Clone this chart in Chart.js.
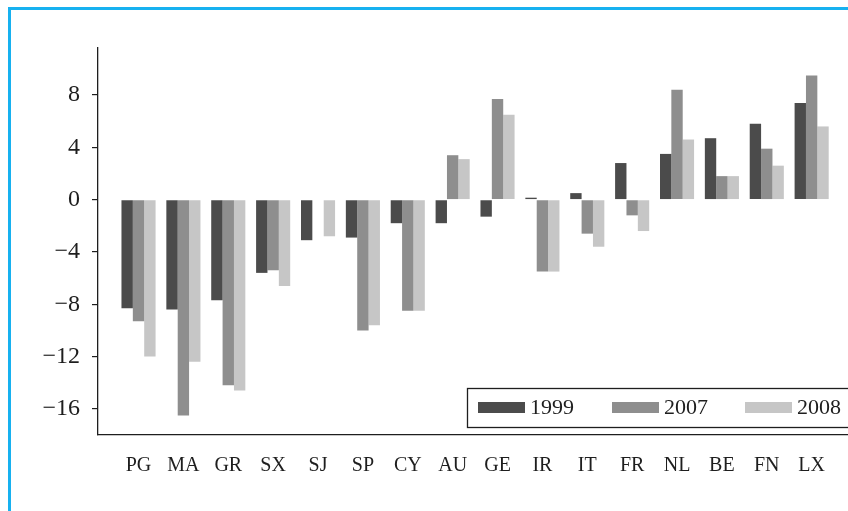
<!DOCTYPE html>
<html>
<head>
<meta charset="utf-8">
<script src="https://cdn.jsdelivr.net/npm/chart.js@4.4.1/dist/chart.umd.min.js"></script>
<style>
  html, body { margin: 0; padding: 0; background: #fff; overflow: hidden; }
  #moldura { position: absolute; left: 8px; top: 7px; width: 900px; height: 600px;
             border: 3px solid #17b1f0; box-sizing: border-box; }
  #caixa { position: absolute; left: 0; top: 0; width: 848px; height: 511px; }
</style>
</head>
<body>
<div id="moldura"></div>
<div id="caixa"><canvas id="grafico" width="848" height="511"></canvas></div>
<script>
// Dados
const categorias = ['PG', 'MA', 'GR', 'SX', 'SJ', 'SP', 'CY', 'AU', 'GE', 'IR', 'IT', 'FR', 'NL', 'BE', 'FN', 'LX'];
const anos = ['1999', '2007', '2008'];
const v1999 = [-8.3, -8.4, -7.7, -5.6, -3.1, -2.9, -1.8, -1.8, -1.3, 0.15, 0.5, 2.8, 3.5, 4.7, 5.8, 7.4];
const v2007 = [-9.3, -16.5, -14.2, -5.4, null, -10.0, -8.5, 3.4, 7.7, -5.5, -2.6, -1.2, 8.4, 1.8, 3.9, 9.5];
const v2008 = [-12.0, -12.4, -14.6, -6.6, -2.8, -9.6, -8.5, 3.1, 6.5, -5.5, -3.6, -2.4, 4.6, 1.8, 2.6, 5.6];
const yTicks = [8, 4, 0, -4, -8, -12, -16];

const cores = ['#4b4b4b', '#8e8e8e', '#c6c6c6'];
const fonte = '"Liberation Serif", "Times New Roman", serif';
const tinta = '#1e1e1e';

const serie = vals => vals.map((v, i) => ({ x: i, y: v }));

// Legenda em caixa dentro da área do gráfico (cortada à direita, como no original)
const legendaCaixa = {
  id: 'legendaCaixa',
  afterDraw(chart) {
    const ctx = chart.ctx;
    ctx.save();
    ctx.fillStyle = '#fff';
    ctx.fillRect(467, 388, 420, 39);
    ctx.strokeStyle = tinta;
    ctx.lineWidth = 1.3;
    ctx.strokeRect(467.5, 388.5, 420, 39);
    const sx = [478, 612, 745];
    ctx.font = '22px ' + fonte;
    ctx.textBaseline = 'middle';
    chart.data.datasets.forEach((ds, i) => {
      ctx.fillStyle = ds.backgroundColor;
      ctx.fillRect(sx[i], 402, 47, 11);
      ctx.fillStyle = tinta;
      ctx.fillText(ds.label, sx[i] + 52, 408);
    });
    ctx.restore();
  }
};

new Chart(document.getElementById('grafico'), {
  type: 'bar',
  data: {
    datasets: [
      { label: anos[0], data: serie(v1999), backgroundColor: cores[0] },
      { label: anos[1], data: serie(v2007), backgroundColor: cores[1] },
      { label: anos[2], data: serie(v2008), backgroundColor: cores[2] }
    ]
  },
  options: {
    responsive: false,
    animation: false,
    categoryPercentage: 0.76,
    barPercentage: 1.0,
    layout: { padding: { top: 48, left: 0, right: 0, bottom: 0 } },
    plugins: { legend: { display: false }, tooltip: { enabled: false } },
    scales: {
      x: {
        type: 'linear',
        offset: false,
        min: -0.903,
        max: 15.81,
        grid: { display: false },
        border: { display: true, color: tinta, width: 1.3 },
        afterBuildTicks: s => { s.ticks = categorias.map((c, i) => ({ value: i })); },
        afterFit: s => { s.height = 76; },
        ticks: {
          autoSkip: false,
          maxRotation: 0,
          padding: 11,
          color: tinta,
          font: { family: fonte, size: 20 },
          callback: v => categorias[v]
        }
      },
      y: {
        min: -18,
        max: 11.6,
        afterBuildTicks: s => { s.ticks = yTicks.map(v => ({ value: v })); },
        afterFit: s => { s.width = 98; },
        grid: { drawOnChartArea: false, tickLength: 6, color: tinta, lineWidth: 1.2 },
        border: { display: true, color: tinta, width: 1.3 },
        ticks: {
          padding: 12,
          color: tinta,
          font: { family: fonte, size: 24 },
          callback: v => (v < 0 ? '\u2212' + Math.abs(v) : String(v))
        }
      }
    }
  },
  plugins: [legendaCaixa]
});
</script>
</body>
</html>
